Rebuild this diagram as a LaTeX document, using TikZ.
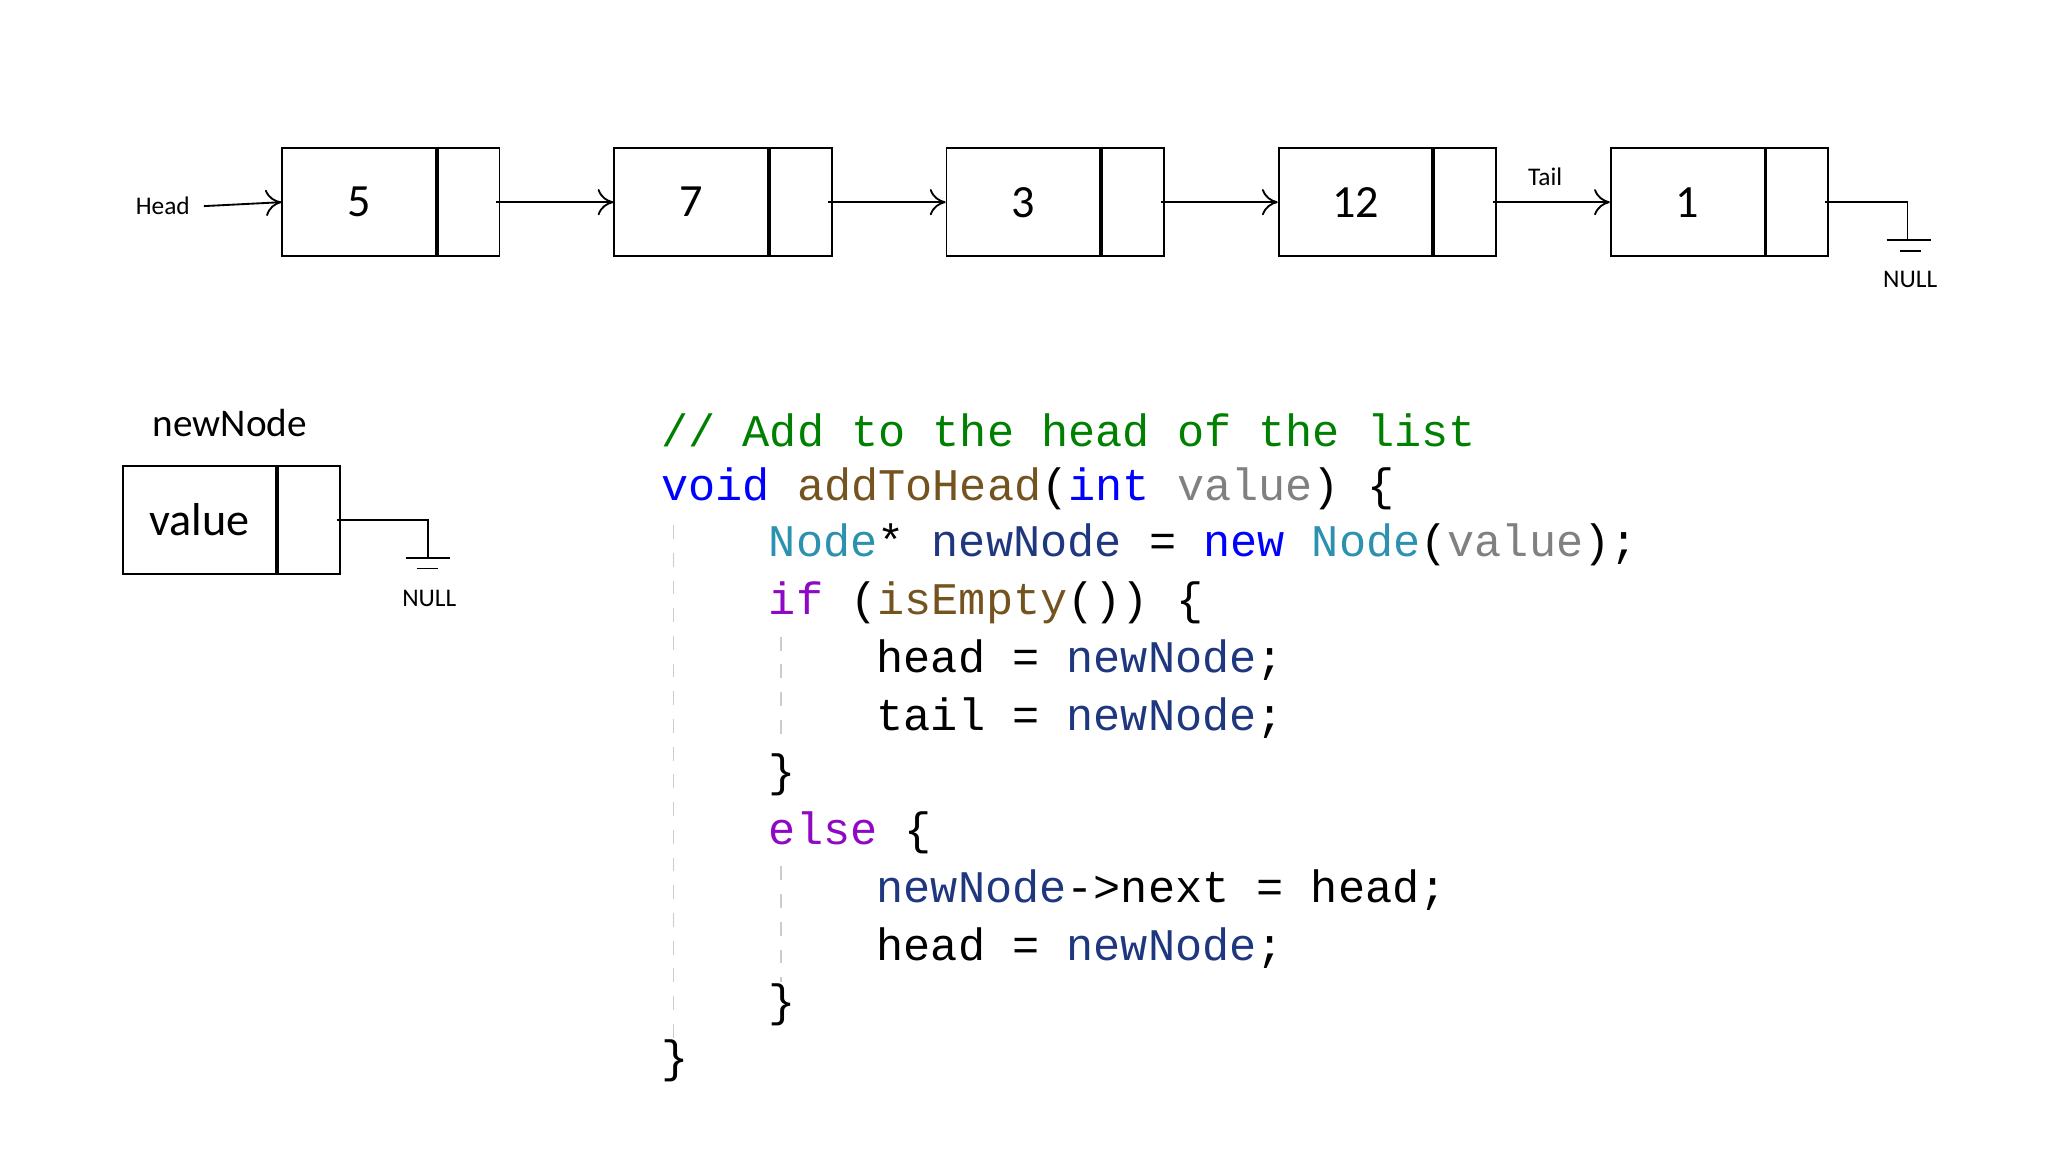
\documentclass[tikz,border=0pt]{standalone}
\usepackage{fontspec}
\setmainfont{Carlito}
\setmonofont{Liberation Mono}
\usetikzlibrary{positioning,arrows.meta}
\definecolor{cmt}{RGB}{0,128,0}
\definecolor{kw}{RGB}{0,0,255}
\definecolor{fn}{RGB}{116,83,31}
\definecolor{par}{RGB}{128,128,128}
\definecolor{typ}{RGB}{43,145,175}
\definecolor{var}{RGB}{31,55,127}
\definecolor{ctl}{RGB}{143,8,196}
\tikzstyle{valbox} = [rectangle, draw=black, minimum width=1.17cm, minimum height=0.82cm, inner sep=0pt, font=\fontsize{10}{12}\selectfont]
\tikzstyle{ptrbox} = [rectangle, draw=black, minimum width=0.47cm, minimum height=0.82cm, inner sep=0pt]
\tikzstyle{arrow} = [-{To[length=1.2mm,width=2mm]}]
\tikzstyle{label} = [font=\fontsize{5.5}{6}\selectfont, inner sep=0pt]
\tikzstyle{code} = [anchor=west, inner sep=0pt, font=\ttfamily\fontsize{9.8}{11}\selectfont]
\tikzstyle{guide} = [draw=black!20, dashed, line width=0.4pt]
\begin{document}
\begin{tikzpicture}[x=0.01cm,y=-0.01cm]
	\useasboundingbox (0,0) rectangle (1560,878);

	% list
	\foreach \v [count=\i] in {5,7,3,12,1} {
		\node (v\i) [valbox] at ({273.5+253*(\i-1)},154) {\v};
		\node (p\i) [ptrbox,right=0pt of v\i] {};
	}
	\node (head) [label] at (124,157) {Head};
	\draw [arrow] (head.east) ++(10,0) -- (v1.west);
	\foreach \i/\j in {1/2,2/3,3/4,4/5}
		\draw [arrow] ([xshift=6pt]p\i.center) -- (v\j.west);
	\node (tail) [label] at (1177,135) {Tail};
	\coordinate (g1) at (1453,183);
	\draw ([xshift=6pt]p5.center) -| (g1);
	\draw (1437,183) -- (1471,183) (1447,191) -- (1463,191);
	\node (null1) [label] at (1455,213) {NULL};

	% new node
	\node (nn) [valbox] at (152,396) {value};
	\node (np) [ptrbox,right=0pt of nn] {};
	\node (nnl) [font=\fontsize{8.5}{10}\selectfont] at (175,322) {newNode};
	\coordinate (g2) at (326,425);
	\draw ([xshift=6pt]np.center) -| (g2);
	\draw (309,425) -- (343,425) (318,433) -- (334,433);
	\node (null2) [label] at (327,456) {NULL};

	% code
	\draw [guide] (513,400) -- (513,792);
	\draw [guide] (595,485) -- (595,568);
	\draw [guide] (595,660) -- (595,748);
	\node (c1) [code] at (503,328) {\textcolor{cmt}{// Add to the head of the list}};
	\node (c2) [code] at (503,372) {\textcolor{kw}{void} \textcolor{fn}{addToHead}(\textcolor{kw}{int} \textcolor{par}{value}) \{};
	\node (c3) [code] at (585,415) {\textcolor{typ}{Node}* \textcolor{var}{newNode} = \textcolor{kw}{new} \textcolor{typ}{Node}(\textcolor{par}{value});};
	\node (c4) [code] at (585,459) {\textcolor{ctl}{if} (\textcolor{fn}{isEmpty}()) \{};
	\node (c5) [code] at (667,503) {head = \textcolor{var}{newNode};};
	\node (c6) [code] at (667,547) {tail = \textcolor{var}{newNode};};
	\node (c7) [code] at (585,590) {\}};
	\node (c8) [code] at (585,634) {\textcolor{ctl}{else} \{};
	\node (c9) [code] at (667,678) {\textcolor{var}{newNode}->next = head;};
	\node (c10) [code] at (667,722) {head = \textcolor{var}{newNode};};
	\node (c11) [code] at (585,765) {\}};
	\node (c12) [code] at (503,808) {\}};

\end{tikzpicture}
\end{document}
